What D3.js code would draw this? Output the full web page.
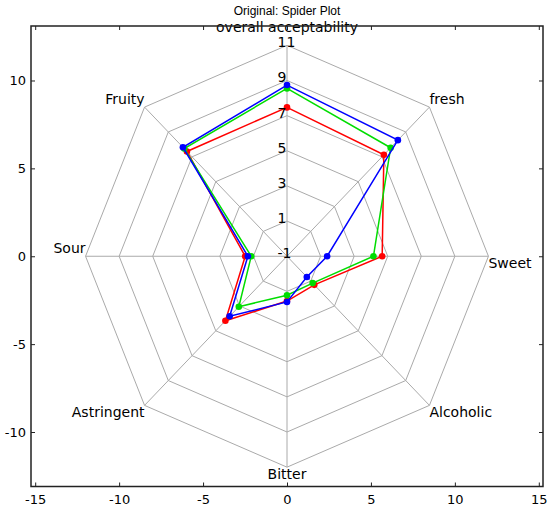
<!DOCTYPE html>
<html lang="en">
<head>
    <meta charset="UTF-8" />
    <title>Spider Plot</title>
    <script src="https://d3js.org/d3.v7.min.js"></script>
    <style>
        body { margin: 0; background: #fff; }
        svg { display: block; }
        text { font-family: 'DejaVu Sans', sans-serif; fill: #000; }
        text.title { font-family: 'Liberation Sans', Arial, sans-serif; font-size: 12px; }
        .grid { stroke: #aaaaaa; stroke-width: 1; fill: none; }
        .frame { fill: none; stroke: #222; stroke-width: 1.5; }
        text.rlabel { font-size: 14px; }
        text.cat { font-size: 14px; }
    </style>
</head>
<body>
<svg width="550" height="509"></svg>
<script>
    // categories, counter-clockwise angle order starting at the top
    var categories = ['overall acceptability', 'Fruity', 'Sour', 'Astringent', 'Bitter', 'Alcoholic', 'Sweet', 'fresh'];
    var angles = [90, 135, 180, 225, 270, 315, 0, 45];

    // radial scale: center is -1, outer ring is 11
    var radialTicks = [-1, 1, 3, 5, 7, 9, 11];

    var redValues   = [7.47, 7.43, 1.49, 4.19, 1.55, 1.30, 4.67, 7.16];
    var greenValues = [8.55, 7.66, 1.13, 3.06, 1.22, 1.16, 4.15, 7.73];
    var blueValues  = [8.74, 7.77, 1.33, 3.83, 1.60, 0.67, 1.39, 8.34];

    var xTicks = [-15, -10, -5, 0, 5, 10, 15];
    var yTicks = [-10, -5, 0, 5, 10];

    var series = [
        { values: redValues, color: '#ff0000' },
        { values: greenValues, color: '#00dd00' },
        { values: blueValues, color: '#0000ff' }
    ];

    const svg = d3.select('svg');

    const plotLeft = 31, plotRight = 543, plotTop = 26, plotBottom = 486.5;

    const x = d3.scaleLinear().domain([-15.25, 15.25]).range([plotLeft, plotRight]);
    const y = d3.scaleLinear().domain([-13.1, 13.1]).range([plotBottom, plotTop]);

    const rMin = radialTicks[0];
    const rMaxVal = radialTicks[radialTicks.length - 1];
    const rad = (v) => v - rMin;
    const toRad = (a) => a * Math.PI / 180;
    const px = (v, a) => x(rad(v) * Math.cos(toRad(a)));
    const py = (v, a) => y(rad(v) * Math.sin(toRad(a)));

    // rings
    radialTicks.slice(1).forEach(function (v) {
        svg.append('path')
            .attr('class', 'grid')
            .attr('d', d3.line()
                .x((a) => px(v, a))
                .y((a) => py(v, a))(angles.concat([angles[0]])));
    });

    // spokes
    svg.selectAll('.spoke')
        .data(angles)
        .enter()
        .append('line')
        .attr('class', 'grid')
        .attr('x1', x(0)).attr('y1', y(0))
        .attr('x2', (a) => px(rMaxVal, a))
        .attr('y2', (a) => py(rMaxVal, a));

    // axes, ticks pointing inward on all four sides
    const fmt = (d) => d < 0 ? '-' + Math.abs(d) : String(d);
    const gx = svg.append('g')
        .attr('transform', `translate(0, ${plotBottom})`)
        .call(d3.axisBottom(x).tickValues(xTicks).tickSize(-4).tickPadding(8).tickFormat(fmt));
    const gxt = svg.append('g')
        .attr('transform', `translate(0, ${plotTop})`)
        .call(d3.axisTop(x).tickValues(xTicks).tickSize(-4).tickFormat(''));
    const gy = svg.append('g')
        .attr('transform', `translate(${plotLeft}, 0)`)
        .call(d3.axisLeft(y).tickValues(yTicks).tickSize(-4).tickPadding(5).tickFormat(fmt));
    const gyr = svg.append('g')
        .attr('transform', `translate(${plotRight}, 0)`)
        .call(d3.axisRight(y).tickValues(yTicks).tickSize(-4).tickFormat(''));

    [gx, gxt, gy, gyr].forEach(function (g) {
        g.select('.domain').remove();
        g.selectAll('.tick line').attr('stroke', '#222');
        g.selectAll('.tick text')
            .attr('font-family', 'DejaVu Sans, sans-serif')
            .attr('font-size', 13)
            .attr('fill', '#000');
    });

    // series
    series.forEach(function (s) {
        const pts = s.values.map((v, i) => [px(v, angles[i]), py(v, angles[i])]);
        svg.append('path')
            .attr('d', d3.line()(pts.concat([pts[0]])))
            .attr('fill', 'none')
            .attr('stroke', s.color)
            .attr('stroke-width', 1.5);
        svg.selectAll(null)
            .data(pts)
            .enter()
            .append('circle')
            .attr('cx', (p) => p[0])
            .attr('cy', (p) => p[1])
            .attr('r', 3.3)
            .attr('fill', s.color);
    });

    // radial tick labels along the top spoke
    svg.selectAll('.rlabel')
        .data(radialTicks)
        .enter()
        .append('text')
        .attr('class', 'rlabel')
        .attr('x', x(0) - 9.5)
        .attr('y', (v) => py(v, 90) + 2)
        .text(fmt);

    // category labels at the outer vertices
    svg.selectAll('.cat')
        .data(categories)
        .enter()
        .append('text')
        .attr('class', 'cat')
        .attr('x', (c, i) => px(rMaxVal, angles[i]))
        .attr('y', function (c, i) {
            const a = angles[i];
            const yy = py(rMaxVal, a);
            if (a === 90) return yy - 13;
            if (a === 0 || a > 180) return yy + 12;
            return yy - 3;
        })
        .attr('text-anchor', function (c, i) {
            const a = angles[i];
            if (a === 90 || a === 270) return 'middle';
            return (a < 90 || a > 270) ? 'start' : 'end';
        })
        .text((c) => c);

    // frame
    svg.append('rect')
        .attr('class', 'frame')
        .attr('x', plotLeft).attr('y', plotTop)
        .attr('width', plotRight - plotLeft).attr('height', plotBottom - plotTop);

    // title
    svg.append('text')
        .attr('class', 'title')
        .attr('x', (plotLeft + plotRight) / 2)
        .attr('y', 15)
        .attr('text-anchor', 'middle')
        .text('Original: Spider Plot');
</script>
</body>
</html>
